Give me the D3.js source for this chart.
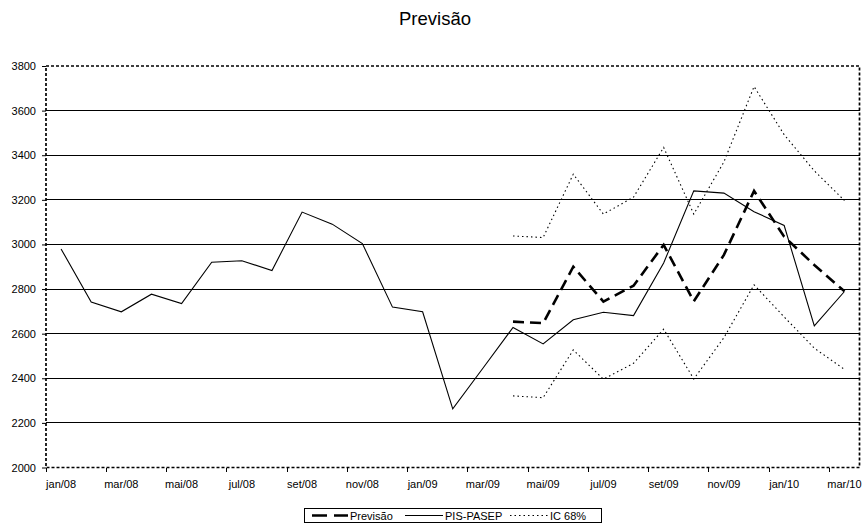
<!DOCTYPE html>
<html>
<head>
<meta charset="utf-8">
<script src="https://cdn.jsdelivr.net/npm/d3@7"></script>
<style>
  html, body { margin: 0; padding: 0; background: #fff; }
  svg { display: block; font-family: Arial, "Liberation Sans", sans-serif; }
</style>
</head>
<body>
<svg id="chart" width="868" height="527"></svg>
<script>
// Monthly categories, jan/08 .. mar/10
const categories = [
  "jan/08","fev/08","mar/08","abr/08","mai/08","jun/08","jul/08","ago/08","set/08","out/08","nov/08","dez/08",
  "jan/09","fev/09","mar/09","abr/09","mai/09","jun/09","jul/09","ago/09","set/09","out/09","nov/09","dez/09",
  "jan/10","fev/10","mar/10"
];

// Observed series
const pisPasep = [
  2980, 2742, 2698, 2777, 2735, 2920, 2927, 2883, 3145, 3091, 3004, 2719,
  2698, 2263, 2445, 2628, 2554, 2662, 2696, 2681, 2917, 3240, 3230, 3147,
  3085, 2635, 2789
];

// Forecast and 68% interval (start at abr/09)
const previsao = [
  null, null, null, null, null, null, null, null, null, null, null, null,
  null, null, null, 2654, 2647, 2900, 2744, 2815, 2998, 2745, 2953, 3240,
  3035, 2908, 2790
];
const icUpper = [
  null, null, null, null, null, null, null, null, null, null, null, null,
  null, null, null, 3038, 3031, 3315, 3136, 3212, 3435, 3136, 3370, 3708,
  3492, 3330, 3197
];
const icLower = [
  null, null, null, null, null, null, null, null, null, null, null, null,
  null, null, null, 2321, 2313, 2527, 2396, 2467, 2620, 2397, 2582, 2819,
  2675, 2535, 2440
];

// Axis labels
const xTickLabels = ["jan/08","mar/08","mai/08","jul/08","set/08","nov/08","jan/09","mar/09","mai/09","jul/09","set/09","nov/09","jan/10","mar/10"];
const yTicks = [2000, 2200, 2400, 2600, 2800, 3000, 3200, 3400, 3600, 3800];

const FONT = "Arial, 'Liberation Sans', sans-serif";
const svg = d3.select("#chart");
const plot = { left: 46, right: 859.5, top: 66, bottom: 467.5 };

const x = d3.scaleBand().domain(categories).range([plot.left, plot.right]).padding(0);
const y = d3.scaleLinear().domain([2000, 3800]).range([plot.bottom, plot.top]);
const cx = c => x(c) + x.bandwidth() / 2;

// Title
svg.append("text")
  .attr("x", 435).attr("y", 25)
  .attr("text-anchor", "middle")
  .attr("font-size", 18.5)
  .attr("fill", "#000")
  .text("Previsão");

// Horizontal gridlines
svg.append("g")
  .selectAll("line")
  .data(yTicks.filter(v => v > 2000 && v < 3800))
  .join("line")
  .attr("x1", plot.left).attr("x2", plot.right)
  .attr("y1", d => y(d)).attr("y2", d => y(d))
  .attr("stroke", "#000").attr("stroke-width", 1)
  .attr("shape-rendering", "crispEdges");

// Y axis labels and ticks
const yAxis = svg.append("g")
  .attr("transform", `translate(${plot.left},0)`)
  .call(d3.axisLeft(y).tickValues(yTicks).tickSize(4).tickPadding(6).tickFormat(d3.format("d")));
yAxis.select(".domain").remove();
yAxis.selectAll("text").attr("font-size", 11).attr("fill", "#000").attr("font-family", FONT);
yAxis.selectAll("line").attr("stroke", "#000");

// X axis labels centred on their month
const xAxis = svg.append("g")
  .attr("transform", `translate(0,${plot.bottom})`)
  .call(d3.axisBottom(x).tickValues(xTickLabels).tickSize(0).tickPadding(13));
xAxis.select(".domain").remove();
xAxis.selectAll("text").attr("font-size", 11).attr("fill", "#000").attr("font-family", FONT);

// X tick marks on category boundaries, every two months
svg.append("g")
  .selectAll("line")
  .data(categories.filter((c, i) => i % 2 === 0))
  .join("line")
  .attr("x1", d => x(d)).attr("x2", d => x(d))
  .attr("y1", plot.bottom).attr("y2", plot.bottom + 4)
  .attr("stroke", "#000").attr("stroke-width", 1)
  .attr("shape-rendering", "crispEdges");

// Dotted plot-area frame
svg.append("rect")
  .attr("x", plot.left).attr("y", plot.top)
  .attr("width", plot.right - plot.left).attr("height", plot.bottom - plot.top)
  .attr("fill", "none")
  .attr("stroke", "#000").attr("stroke-width", 1.7)
  .attr("stroke-dasharray", "3,2");

// Series lines
const line = d3.line()
  .defined(d => d.v != null)
  .x(d => cx(d.c))
  .y(d => y(d.v));
const toPts = arr => categories.map((c, i) => ({ c, v: arr[i] }));

svg.append("path").datum(toPts(icUpper))
  .attr("d", line).attr("fill", "none")
  .attr("stroke", "#000").attr("stroke-width", 1.1).attr("stroke-dasharray", "1.5,3");
svg.append("path").datum(toPts(icLower))
  .attr("d", line).attr("fill", "none")
  .attr("stroke", "#000").attr("stroke-width", 1.1).attr("stroke-dasharray", "1.5,3");
svg.append("path").datum(toPts(pisPasep))
  .attr("d", line).attr("fill", "none")
  .attr("stroke", "#000").attr("stroke-width", 1.1);
svg.append("path").datum(toPts(previsao))
  .attr("d", line).attr("fill", "none")
  .attr("stroke", "#000").attr("stroke-width", 2.6).attr("stroke-dasharray", "11,6");

// Legend
const legend = svg.append("g");
legend.append("rect")
  .attr("x", 304.5).attr("y", 508.5).attr("width", 297).attr("height", 14)
  .attr("fill", "#fff").attr("stroke", "#000").attr("stroke-width", 1);
const items = [
  { label: "Previsão", x0: 312, x1: 348, w: 2.6, dash: "15,7" },
  { label: "PIS-PASEP", x0: 405, x1: 443, w: 1.1, dash: null },
  { label: "IC 68%", x0: 510, x1: 548, w: 1.1, dash: "1.5,3" }
];
items.forEach(it => {
  legend.append("line")
    .attr("x1", it.x0).attr("x2", it.x1)
    .attr("y1", 515.5).attr("y2", 515.5)
    .attr("stroke", "#000").attr("stroke-width", it.w)
    .attr("stroke-dasharray", it.dash);
  legend.append("text")
    .attr("x", it.x1 + 2).attr("y", 519.5)
    .attr("font-size", 11).attr("fill", "#000")
    .text(it.label);
});
</script>
</body>
</html>
